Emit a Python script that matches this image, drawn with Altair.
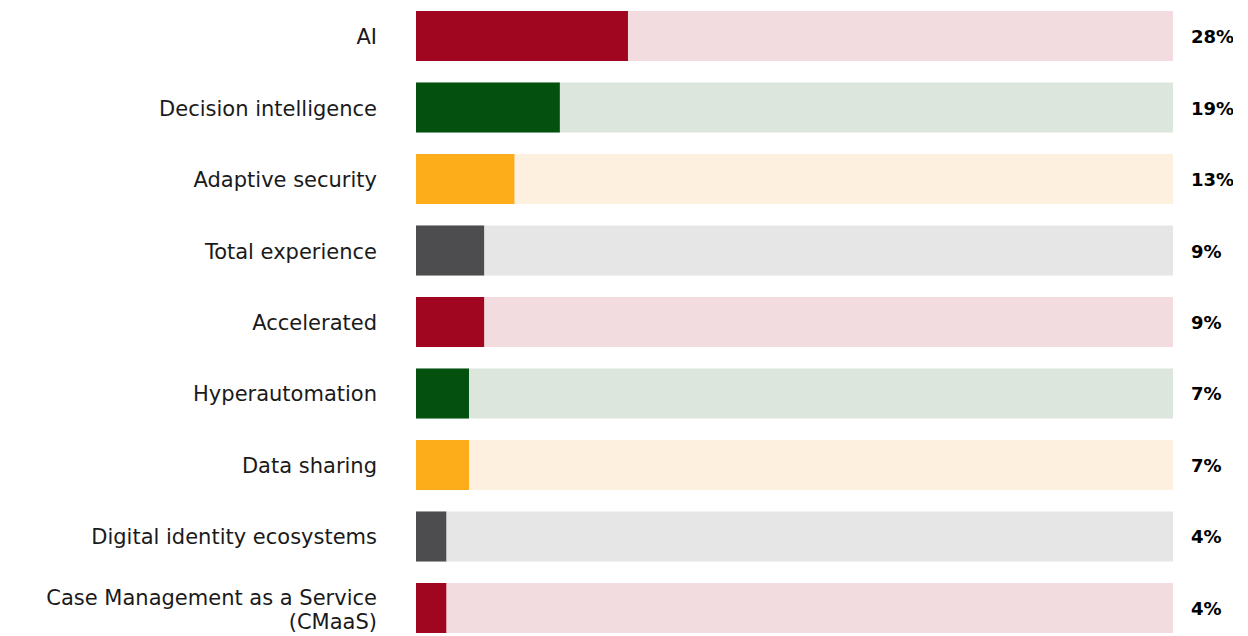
import altair as alt
import pandas as pd

categories = ["AI", "Decision intelligence", "Adaptive security", "Total experience",
              "Accelerated", "Hyperautomation", "Data sharing",
              "Digital identity ecosystems", "Case Management as a Service\n(CMaaS)"]
values = [28, 19, 13, 9, 9, 7, 7, 4, 4]
bar_colors = ["#A0061F", "#03500F", "#FDAC1A", "#4D4D4F",
              "#A0061F", "#03500F", "#FDAC1A", "#4D4D4F", "#A0061F"]
bg_colors = ["#F2DCDF", "#DCE6DD", "#FEF0DE", "#E6E6E6",
             "#F2DCDF", "#DCE6DD", "#FEF0DE", "#E6E6E6", "#F2DCDF"]

df = pd.DataFrame({
    "cat": categories,
    "value": values,
    "full": [100] * len(values),
    "color": bar_colors,
    "bg": bg_colors,
    "pct": [f"{v}%" for v in values],
    "multi": ["\n" in c for c in categories],
})

y = alt.Y("cat:N", sort=categories, axis=None,
          scale=alt.Scale(paddingInner=0.30, paddingOuter=0.042))
xs = alt.Scale(domain=[0, 100])

base = alt.Chart(df)

bg = base.mark_bar().encode(
    x=alt.X("full:Q", scale=xs, axis=None),
    y=y,
    color=alt.Color("bg:N", scale=None),
)
fg = base.mark_bar().encode(
    x=alt.X("value:Q", scale=xs, axis=None),
    y=y,
    color=alt.Color("color:N", scale=None),
)
label_style = dict(align="right", baseline="middle", font="DejaVu Sans",
                   fontSize=21, color="#1a1a1a", lineBreak="\n", lineHeight=24)
labels = base.transform_filter("!datum.multi").mark_text(dy=2, **label_style).encode(
    x=alt.value(-39),
    y=y,
    text="cat:N",
)
labels_multi = base.transform_filter("datum.multi").mark_text(dy=-9, **label_style).encode(
    x=alt.value(-39),
    y=y,
    text="cat:N",
)
pct = base.mark_text(align="left", baseline="middle", font="DejaVu Sans", dy=2,
                     fontSize=18, fontWeight="bold", color="#000000").encode(
    x=alt.value(775),
    y=y,
    text="pct:N",
)

chart = alt.layer(bg, fg, labels, labels_multi, pct).properties(
    width=757, height=628,
    padding={"left": 408, "top": 0, "right": 60, "bottom": 0},
    autosize=alt.AutoSizeParams(type="none"),
).configure_view(stroke=None)

chart.save("out.html", embed_options={"renderer": "svg", "actions": False})
